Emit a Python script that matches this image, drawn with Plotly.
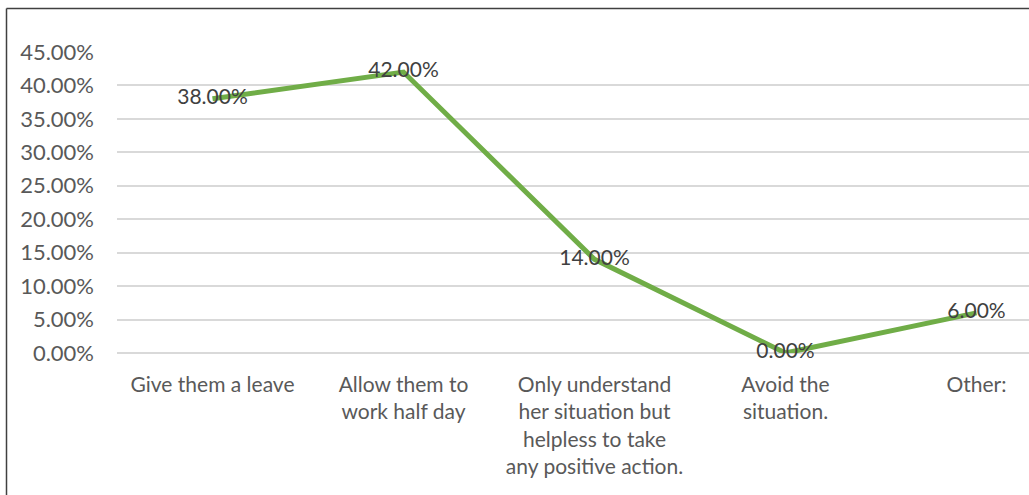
import plotly.graph_objects as go

categories = [
    "Give them a leave",
    "Allow them to<br>work half day",
    "Only understand<br>her situation but<br>helpless to take<br>any positive action.",
    "Avoid the<br>situation.",
    "Other:",
]
shares = [38.0, 42.0, 14.0, 0.0, 6.0]
y_ticks = [0, 5, 10, 15, 20, 25, 30, 35, 40, 45]
y_tick_text = [f"{v:.2f}%" for v in y_ticks]

W, H = 1029, 495
ML, MR, MT, MB = 117, 0, 52, 142
FONT = "Lato"
FS = 22
CAT_PX = 191  # width of one category slot in pixels

fig = go.Figure()
fig.add_trace(go.Scatter(
    x=categories,
    y=shares,
    mode="lines+text",
    line=dict(color="#70AD47", width=5),
    text=[f"{v:.2f}%" for v in shares],
    textposition="middle center",
    textfont=dict(family=FONT, size=21, color="#404040"),
    cliponaxis=False,
    hoverinfo="skip",
))

# outer frame: left and top edges of the chart box
pw = W - ML - MR
ph = H - MT - MB
def px_x(p):
    return (p - ML) / pw
def px_y(p):
    return 1 - (p - MT) / ph

fig.add_shape(type="line", xref="paper", yref="paper",
              x0=px_x(6.5), x1=px_x(1040), y0=px_y(8.5), y1=px_y(8.5),
              line=dict(color="#404040", width=1.5))
fig.add_shape(type="line", xref="paper", yref="paper",
              x0=px_x(6.5), x1=px_x(6.5), y0=px_y(8.5), y1=px_y(510),
              line=dict(color="#404040", width=1.5))

fig.update_layout(
    width=W, height=H,
    margin=dict(l=ML, r=MR, t=MT, b=MB),
    paper_bgcolor="white",
    plot_bgcolor="white",
    showlegend=False,
    font=dict(family=FONT, size=FS, color="#595959"),
    xaxis=dict(
        type="category",
        range=[-0.5, -0.5 + pw / CAT_PX],
        showgrid=False,
        showline=False,
        ticks="",
        zeroline=False,
        ticklabelstandoff=17,
        tickfont=dict(family=FONT, size=21, color="#595959"),
        fixedrange=True,
    ),
    yaxis=dict(
        range=[0, 45],
        tickvals=y_ticks,
        ticktext=y_tick_text,
        showgrid=True,
        gridcolor="#D9D9D9",
        gridwidth=1.5,
        zeroline=True,
        zerolinecolor="#D9D9D9",
        zerolinewidth=1.5,
        showline=False,
        ticks="",
        ticklabelstandoff=22,
        tickfont=dict(family=FONT, size=FS, color="#595959"),
        fixedrange=True,
    ),
)

fig.write_html("out.html")
